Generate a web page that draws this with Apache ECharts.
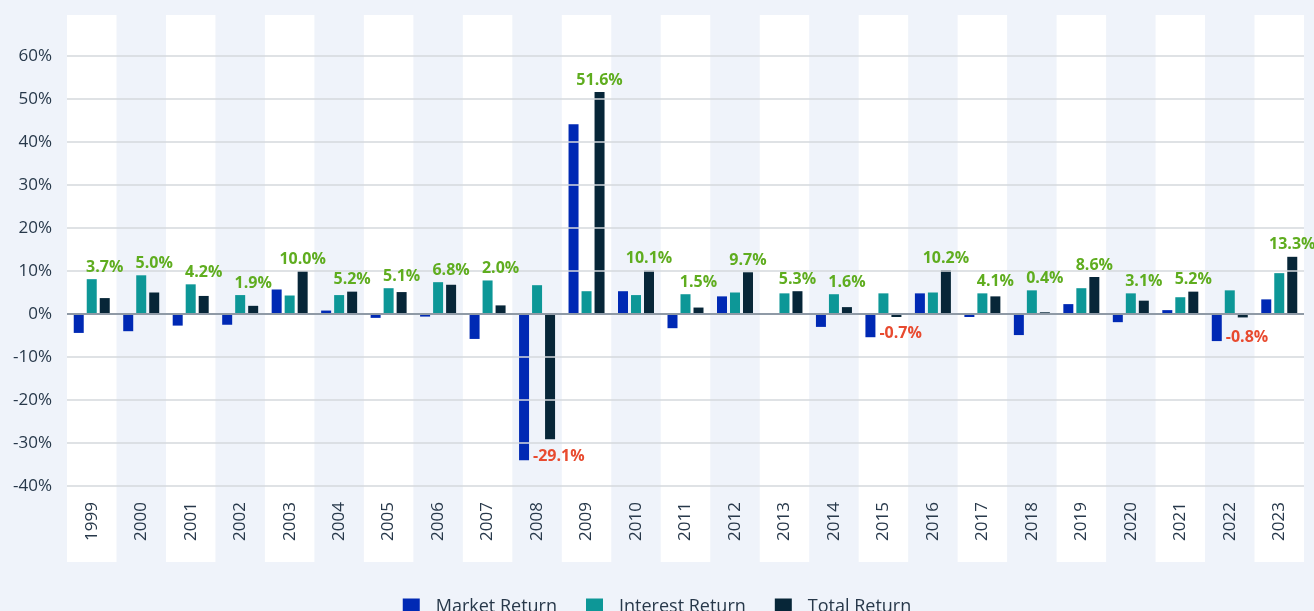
<!DOCTYPE html>
<html>
<head>
<meta charset="utf-8">
<script src="https://cdn.jsdelivr.net/npm/echarts@6/dist/echarts.min.js"></script>
<style>
  html, body { margin: 0; padding: 0; background: #eff3fa; }
  #chart { width: 1314px; height: 611px; }
</style>
</head>
<body>
<div id="chart"></div>
<script>
const years = ['1999','2000','2001','2002','2003','2004','2005','2006','2007','2008','2009','2010','2011','2012','2013','2014','2015','2016','2017','2018','2019','2020','2021','2022','2023'];
const marketReturn = [-4.4, -4.0, -2.7, -2.5, 5.7, 0.8, -0.9, -0.6, -5.8, -34.0, 44.1, 5.3, -3.3, 4.1, 0.2, -3.0, -5.4, 4.8, -0.7, -4.9, 2.3, -1.9, 0.9, -6.3, 3.4];
const interestReturn = [8.1, 9.0, 6.9, 4.4, 4.3, 4.4, 6.0, 7.4, 7.8, 6.7, 5.3, 4.4, 4.6, 5.0, 4.8, 4.6, 4.8, 5.0, 4.8, 5.5, 6.0, 4.8, 3.9, 5.5, 9.5];
const totalReturn = [3.7, 5.0, 4.2, 1.9, 10.0, 5.2, 5.1, 6.8, 2.0, -29.1, 51.6, 10.1, 1.5, 9.7, 5.3, 1.6, -0.7, 10.2, 4.1, 0.4, 8.6, 3.1, 5.2, -0.8, 13.3];
const yTicks = [-40, -30, -20, -10, 0, 10, 20, 30, 40, 50, 60];
const bandFlags = years.map(() => 1);

const FONT = '"Open Sans", "DejaVu Sans", sans-serif';
const TEXT = '#27384a';
const chart = echarts.init(document.getElementById('chart'), null, { renderer: 'canvas' });

const labelData = years.map((y, i) => [i, totalReturn[i], interestReturn[i], marketReturn[i]]);

chart.setOption({
  backgroundColor: '#eff3fa',
  animation: false,
  textStyle: { fontFamily: FONT },
  grid: [
    { left: 67, right: 10, top: 56, bottom: 125 },
    { left: 67, right: 10, top: 15, bottom: 49 }
  ],
  legend: {
    data: ['Market Return', 'Interest Return', 'Total Return'],
    top: 593,
    left: 'center',
    icon: 'rect',
    itemWidth: 17,
    itemHeight: 17,
    itemGap: 29,
    textStyle: { fontSize: 18, color: TEXT, fontFamily: FONT, padding: [0, 0, 0, 11] }
  },
  xAxis: [
    {
      type: 'category', data: years, gridIndex: 0, z: 3,
      axisLine: { show: false }, axisTick: { show: false },
      axisLabel: { rotate: 90, margin: 16, fontSize: 17, color: TEXT, fontFamily: FONT }
    },
    {
      type: 'category', data: years, gridIndex: 1, z: -1,
      axisLine: { show: false }, axisTick: { show: false }, axisLabel: { show: false },
      splitArea: { show: true, areaStyle: { color: ['#ffffff', 'rgba(0,0,0,0)'] } }
    }
  ],
  yAxis: [
    {
      type: 'value', gridIndex: 0, min: yTicks[0], max: yTicks[yTicks.length - 1], interval: 10, z: 3,
      axisLine: { show: false }, axisTick: { show: false },
      axisLabel: { formatter: '{value}%', fontSize: 17, color: TEXT, margin: 15, fontFamily: FONT },
      splitLine: { show: true, lineStyle: { color: '#d5d8dd', width: 1.5 } }
    },
    {
      type: 'value', gridIndex: 1, min: 0, max: 1, show: false, z: -1,
      splitLine: { show: false }
    }
  ],
  series: [
    {
      name: 'band', type: 'bar', xAxisIndex: 1, yAxisIndex: 1, data: bandFlags.map(() => 0),
      silent: true, itemStyle: { color: 'rgba(0,0,0,0)' }, z: -1
    },
    {
      name: 'Market Return', type: 'bar', data: marketReturn,
      barWidth: 10, barGap: '30%', itemStyle: { color: '#0029b4' },
      markLine: {
        silent: true, symbol: 'none', label: { show: false },
        lineStyle: { color: '#8f9aa6', width: 2, type: 'solid' },
        data: [{ yAxis: 0 }], z: 5
      }
    },
    { name: 'Interest Return', type: 'bar', data: interestReturn, barWidth: 10, barGap: '30%', itemStyle: { color: '#0d9797' } },
    { name: 'Total Return', type: 'bar', data: totalReturn, barWidth: 10, barGap: '30%', itemStyle: { color: '#072638' } },
    {
      name: 'labels', type: 'custom', xAxisIndex: 0, yAxisIndex: 0, silent: true, z: 6,
      data: labelData,
      encode: { x: 0, y: 1 },
      renderItem: function (params, api) {
        const i = api.value(0);
        const t = api.value(1), ir = api.value(2), m = api.value(3);
        const txt = t.toFixed(1) + '%';
        if (t >= 0) {
          const hi = Math.max(t, ir, m);
          const p = api.coord([i, hi]);
          return {
            type: 'text',
            style: {
              text: txt, x: p[0] + 13, y: p[1] - 12,
              align: 'center', verticalAlign: 'middle',
              fill: '#5fad1f', font: 'bold 16px ' + FONT
            }
          };
        } else {
          const lo = Math.min(t, ir, m);
          const p = api.coord([i, lo]);
          return {
            type: 'text',
            style: {
              text: txt, x: p[0] - 4, y: p[1] - 4,
              align: 'left', verticalAlign: 'middle',
              fill: '#e84a2f', font: 'bold 16px ' + FONT
            }
          };
        }
      }
    }
  ]
});
</script>
</body>
</html>
